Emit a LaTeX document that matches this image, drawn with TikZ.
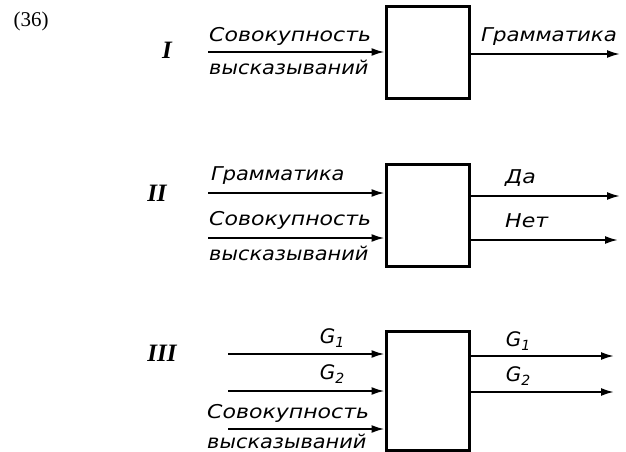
\documentclass[tikz,border=0pt]{standalone}
\usepackage{fontspec}
\setmainfont{Liberation Serif}
\newfontfamily\labfont{DejaVu Sans}
\usetikzlibrary{arrows.meta}
\newcommand\mylab[2][1.16]{\scalebox{#1}[1]{#2}}
\newcommand\gsub[2]{#1\raisebox{-0.4ex}{\fontsize{14}{14}\selectfont #2}}
\begin{document}
\begin{tikzpicture}[x=1pt,y=1pt,
  box/.style={draw, line width=3pt, minimum width=83pt, minimum height=#1, inner sep=0pt},
  arr/.style={line width=2pt, -{Latex[length=13pt,width=8pt]}},
  lab/.style={font=\labfont\itshape\fontsize{19}{21}\selectfont, inner sep=0pt, anchor=west},
  glab/.style={font=\labfont\itshape\fontsize{20}{22}\selectfont, inner sep=0pt},
  num/.style={font=\bfseries\itshape\fontsize{25}{27}\selectfont, inner sep=0pt}]
\useasboundingbox (0,0) rectangle (626,-452);
\node[font=\fontsize{21}{23}\selectfont, inner sep=0pt] (n36) at (31,-21) {(36)};
% Panel I
\node[num] (r1) at (167,-50) {I};
\node[box=91pt] (b1) at (427.5,-52.5) {};
\coordinate (a1) at (208,-52);
\coordinate (c1) at (620,-54);
\draw[arr] (a1) -- (a1 -| b1.west);
\draw[arr] (b1.east |- c1) -- (c1);
\node[lab] (t1a) at (209,-36) {\mylab{Совокупность}};
\node[lab] (t1b) at (209,-67) {\mylab[1.1]{высказываний}};
\node[lab] (t1c) at (481,-37) {\mylab[1.12]{Грамматика}};
% Panel II
\node[num] (r2) at (157,-193) {II};
\node[box=102pt] (b2) at (427.5,-215) {};
\coordinate (a2) at (208,-193);
\coordinate (a3) at (208,-238);
\coordinate (c2) at (620,-196);
\coordinate (c3) at (618,-240);
\draw[arr] (a2) -- (a2 -| b2.west);
\draw[arr] (a3) -- (a3 -| b2.west);
\draw[arr] (b2.east |- c2) -- (c2);
\draw[arr] (b2.east |- c3) -- (c3);
\node[lab] (t2a) at (211,-176) {\mylab[1.1]{Грамматика}};
\node[lab] (t2b) at (209,-220) {\mylab{Совокупность}};
\node[lab] (t2c) at (209,-253) {\mylab[1.1]{высказываний}};
\node[lab] (t2d) at (505,-178) {\mylab{Да}};
\node[lab] (t2e) at (505,-221) {\mylab{Нет}};
% Panel III
\node[num] (r3) at (162,-353) {III};
\node[box=119pt] (b3) at (427.5,-390.5) {};
\coordinate (a4) at (228,-354);
\coordinate (a5) at (228,-391);
\coordinate (a6) at (228,-429);
\coordinate (c4) at (614,-356);
\coordinate (c5) at (614,-392);
\draw[arr] (a4) -- (a4 -| b3.west);
\draw[arr] (a5) -- (a5 -| b3.west);
\draw[arr] (a6) -- (a6 -| b3.west);
\draw[arr] (b3.east |- c4) -- (c4);
\draw[arr] (b3.east |- c5) -- (c5);
\node[glab] (g1) at (332,-338) {\gsub{G}{1}};
\node[glab] (g2) at (332,-374) {\gsub{G}{2}};
\node[lab] (t3a) at (207,-413) {\mylab{Совокупность}};
\node[lab] (t3b) at (207,-441) {\mylab[1.1]{высказываний}};
\node[glab] (g3) at (518,-341) {\gsub{G}{1}};
\node[glab] (g4) at (518,-376) {\gsub{G}{2}};
\end{tikzpicture}
\end{document}
